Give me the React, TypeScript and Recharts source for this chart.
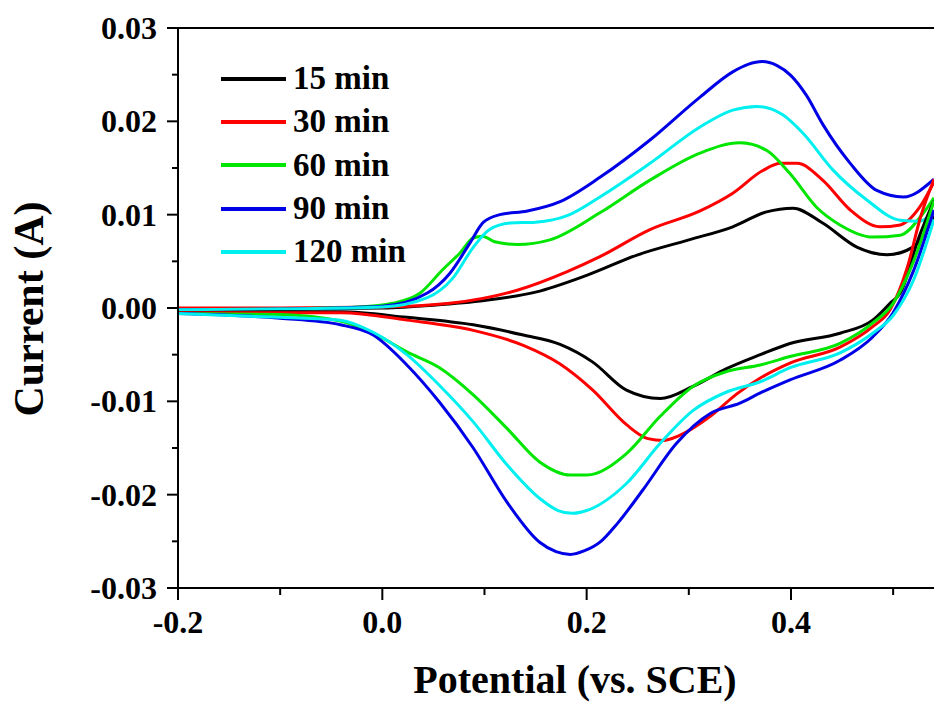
import React from 'react';
import { LineChart, Line, XAxis, YAxis, ReferenceLine, Legend, Label } from 'recharts';

// potential (V) vs current (A), forward (anodic) and reverse (cathodic) branches
const up15 = [
  [-0.2, -0.0002], [-0.1, -0.0001], [0.0, 0.0], [0.05, 0.0003], [0.1, 0.0008], [0.15, 0.0017],
  [0.2, 0.0035], [0.25, 0.0057], [0.3, 0.0073], [0.343, 0.0087], [0.376, 0.0103], [0.402, 0.0107],
  [0.431, 0.0091], [0.465, 0.0065], [0.494, 0.0057], [0.519, 0.0065], [0.54, 0.0098],
];
const down15 = [
  [-0.2, -0.0005], [-0.1, -0.0004], [-0.04, -0.0004], [0.024, -0.001], [0.089, -0.0018], [0.138, -0.0029],
  [0.174, -0.0039], [0.206, -0.0058], [0.239, -0.0088], [0.272, -0.0097], [0.304, -0.0084], [0.337, -0.0065],
  [0.37, -0.005], [0.399, -0.0038], [0.448, -0.0027], [0.48, -0.0013], [0.497, 0.0005], [0.507, 0.0016],
  [0.525, 0.0075], [0.54, 0.0115],
];
const up30 = [
  [-0.2, 0.0], [-0.1, 0.0], [0.0, 0.0001], [0.066, 0.0005], [0.132, 0.0019], [0.181, 0.0039],
  [0.213, 0.0055], [0.262, 0.0084], [0.311, 0.0104], [0.343, 0.0123], [0.372, 0.0147], [0.39, 0.0155],
  [0.406, 0.0155], [0.431, 0.0137], [0.458, 0.0105], [0.487, 0.0087], [0.507, 0.0089], [0.526, 0.0108],
  [0.54, 0.0135],
];
const down30 = [
  [-0.2, -0.0005], [-0.1, -0.0005], [-0.04, -0.0005], [0.024, -0.0013], [0.089, -0.0024], [0.138, -0.004],
  [0.174, -0.006], [0.206, -0.0088], [0.239, -0.0125], [0.26, -0.014], [0.275, -0.0142], [0.29, -0.0137],
  [0.321, -0.0116], [0.347, -0.0092], [0.37, -0.0075], [0.399, -0.0059], [0.448, -0.0042], [0.48, -0.002],
  [0.497, -0.0002], [0.514, 0.0044], [0.527, 0.0098], [0.54, 0.0138],
];
const up60 = [
  [-0.2, -0.0002], [-0.1, -0.0001], [-0.022, 0.0001], [0.01, 0.0005], [0.037, 0.0016], [0.059, 0.0041],
  [0.076, 0.0059], [0.089, 0.0075], [0.098, 0.0077], [0.11, 0.0071], [0.132, 0.0068], [0.164, 0.0073],
  [0.213, 0.0102], [0.262, 0.0137], [0.311, 0.0166], [0.35, 0.0177], [0.376, 0.0169], [0.399, 0.0144],
  [0.425, 0.0108], [0.448, 0.0089], [0.48, 0.0076], [0.507, 0.0078], [0.527, 0.0098], [0.54, 0.0118],
];
const down60 = [
  [-0.2, -0.0006], [-0.1, -0.0007], [-0.041, -0.0014], [-0.009, -0.0027], [0.024, -0.0047], [0.056, -0.0064],
  [0.089, -0.0093], [0.122, -0.0129], [0.154, -0.0165], [0.184, -0.0179], [0.2, -0.0179], [0.239, -0.0156],
  [0.272, -0.0116], [0.304, -0.0084], [0.337, -0.0068], [0.37, -0.0061], [0.399, -0.0052], [0.448, -0.0038],
  [0.48, -0.0016], [0.5, 0.0005], [0.52, 0.005], [0.54, 0.0115],
];
const up90 = [
  [-0.2, -0.0002], [-0.1, -0.0001], [0.0, 0.0002], [0.044, 0.0016], [0.066, 0.0037], [0.086, 0.007],
  [0.099, 0.0092], [0.115, 0.01], [0.142, 0.0104], [0.174, 0.0114], [0.213, 0.014], [0.262, 0.018],
  [0.311, 0.0226], [0.343, 0.0253], [0.358, 0.0261], [0.372, 0.0264], [0.386, 0.026], [0.4, 0.0249],
  [0.415, 0.0228], [0.431, 0.0197], [0.458, 0.0155], [0.484, 0.0126], [0.51, 0.0119], [0.54, 0.0138],
];
const down90 = [
  [-0.2, -0.0006], [-0.1, -0.0011], [-0.041, -0.0018], [-0.009, -0.0029], [0.024, -0.0061], [0.056, -0.0101],
  [0.089, -0.015], [0.122, -0.0208], [0.154, -0.0251], [0.17, -0.0261], [0.184, -0.0264], [0.198, -0.026],
  [0.214, -0.025], [0.23, -0.0231], [0.255, -0.0195], [0.288, -0.0145], [0.321, -0.0113], [0.35, -0.0102],
  [0.37, -0.0091], [0.399, -0.0077], [0.448, -0.0056], [0.48, -0.0031], [0.5, -0.0005], [0.52, 0.004],
  [0.54, 0.0105],
];
const up120 = [
  [-0.2, -0.0002], [-0.1, -0.0001], [0.0, 0.0001], [0.044, 0.0011], [0.069, 0.0032], [0.089, 0.0065],
  [0.105, 0.0084], [0.125, 0.0091], [0.15, 0.0092], [0.181, 0.0099], [0.213, 0.0119], [0.262, 0.0155],
  [0.311, 0.0194], [0.343, 0.0212], [0.367, 0.0216], [0.392, 0.0207], [0.412, 0.0187], [0.441, 0.0148],
  [0.474, 0.0116], [0.507, 0.0094], [0.525, 0.0093], [0.54, 0.0102],
];
const down120 = [
  [-0.2, -0.0006], [-0.1, -0.001], [-0.041, -0.0013], [-0.009, -0.0026], [0.024, -0.005], [0.056, -0.0083],
  [0.089, -0.0122], [0.122, -0.0168], [0.154, -0.0204], [0.172, -0.0217], [0.186, -0.022], [0.2, -0.0217],
  [0.239, -0.0188], [0.272, -0.0145], [0.304, -0.011], [0.337, -0.009], [0.37, -0.0079], [0.399, -0.0064],
  [0.448, -0.0048], [0.48, -0.0027], [0.5, -0.0008], [0.52, 0.003], [0.54, 0.0095],
];

const seriesNames = ['15 min', '30 min', '60 min', '90 min', '120 min'];
const seriesColors = ['#000000', '#ff0000', '#00e600', '#0000e6', '#00f0f0'];
const upBranches = [up15, up30, up60, up90, up120];
const downBranches = [down15, down30, down60, down90, down120];

const xTicks = [-0.2, -0.1, 0.0, 0.1, 0.2, 0.3, 0.4, 0.5];
const yTicks = [-0.03, -0.025, -0.02, -0.015, -0.01, -0.005, 0, 0.005, 0.01, 0.015, 0.02, 0.025, 0.03];

const FONT = "'Liberation Serif', 'Times New Roman', serif";

const toPoints = (arr: number[][]) => arr.map(([x, y]) => ({ x, y }));

const XTick = (props: any) => {
  const { x, y, payload } = props;
  const v = payload.value;
  const major = Math.round(v * 10) % 2 === 0;
  return (
    <g>
      <line x1={x} x2={x} y1={y} y2={y + (major ? 12 : 7)} stroke="#000" strokeWidth={2} />
      {major && (
        <text x={x} y={y + 45} textAnchor="middle" fontFamily={FONT} fontWeight="bold" fontSize={32} fill="#000">
          {v.toFixed(1)}
        </text>
      )}
    </g>
  );
};

const YTick = (props: any) => {
  const { x, y, payload } = props;
  const v = payload.value;
  const major = Math.round(v * 200) % 2 === 0;
  return (
    <g>
      <line x1={x} x2={x - (major ? 11 : 6)} y1={y} y2={y} stroke="#000" strokeWidth={2} />
      {major && (
        <text x={x - 21} y={y} textAnchor="end" dominantBaseline="central" fontFamily={FONT} fontWeight="bold" fontSize={32} fill="#000">
          {v.toFixed(2)}
        </text>
      )}
    </g>
  );
};

const LegendBox = () => (
  <div style={{ fontFamily: FONT, fontWeight: 'bold', fontSize: 33, color: '#000' }}>
    {seriesNames.map((name, i) => (
      <div key={name} style={{ display: 'flex', alignItems: 'center', height: 43.3 }}>
        <span style={{ display: 'inline-block', width: 65, height: 4, background: seriesColors[i], marginRight: 7 }} />
        <span style={{ lineHeight: 1 }}>{name}</span>
      </div>
    ))}
  </div>
);

export default function App() {
  return (
    <div style={{ position: 'absolute', left: 0, top: 0, background: '#fff' }}>
      <LineChart width={934} height={704} margin={{ top: 28, right: 0, bottom: 0, left: 0 }}>
        <XAxis
          type="number"
          dataKey="x"
          domain={[-0.2, 0.54]}
          allowDataOverflow
          ticks={xTicks}
          interval={0}
          height={116}
          tickSize={0}
          tickMargin={0}
          tickLine={false}
          tick={<XTick />}
          axisLine={{ stroke: '#000', strokeWidth: 2 }}
        >
          <Label
            content={() => (
              <text x={575} y={693} textAnchor="middle" fontFamily={FONT} fontWeight="bold" fontSize={40} fill="#000">
                Potential (vs. SCE)
              </text>
            )}
          />
        </XAxis>
        <YAxis
          type="number"
          domain={[-0.03, 0.03]}
          allowDataOverflow
          ticks={yTicks}
          interval={0}
          width={178}
          tickSize={0}
          tickMargin={0}
          tickLine={false}
          tick={<YTick />}
          axisLine={{ stroke: '#000', strokeWidth: 2 }}
        >
          <Label
            content={() => (
              <text
                x={43}
                y={309}
                transform="rotate(-90 43 309)"
                textAnchor="middle"
                fontFamily={FONT}
                fontWeight="bold"
                fontSize={42}
                fill="#000"
              >
                Current (A)
              </text>
            )}
          />
        </YAxis>
        <ReferenceLine y={0.03} stroke="#000" strokeWidth={2} />
        {upBranches.map((branch, i) => (
          <Line
            key={`up-${i}`}
            data={toPoints(branch)}
            dataKey="y"
            type="monotone"
            stroke={seriesColors[i]}
            strokeWidth={3}
            dot={false}
            isAnimationActive={false}
          />
        ))}
        {downBranches.map((branch, i) => (
          <Line
            key={`down-${i}`}
            data={toPoints(branch)}
            dataKey="y"
            type="monotone"
            stroke={seriesColors[i]}
            strokeWidth={3}
            dot={false}
            isAnimationActive={false}
          />
        ))}
        <Legend
          layout="vertical"
          align="center"
          verticalAlign="middle"
          content={<LegendBox />}
          wrapperStyle={{ left: 221, top: 57, width: 'auto' }}
        />
      </LineChart>
    </div>
  );
}
